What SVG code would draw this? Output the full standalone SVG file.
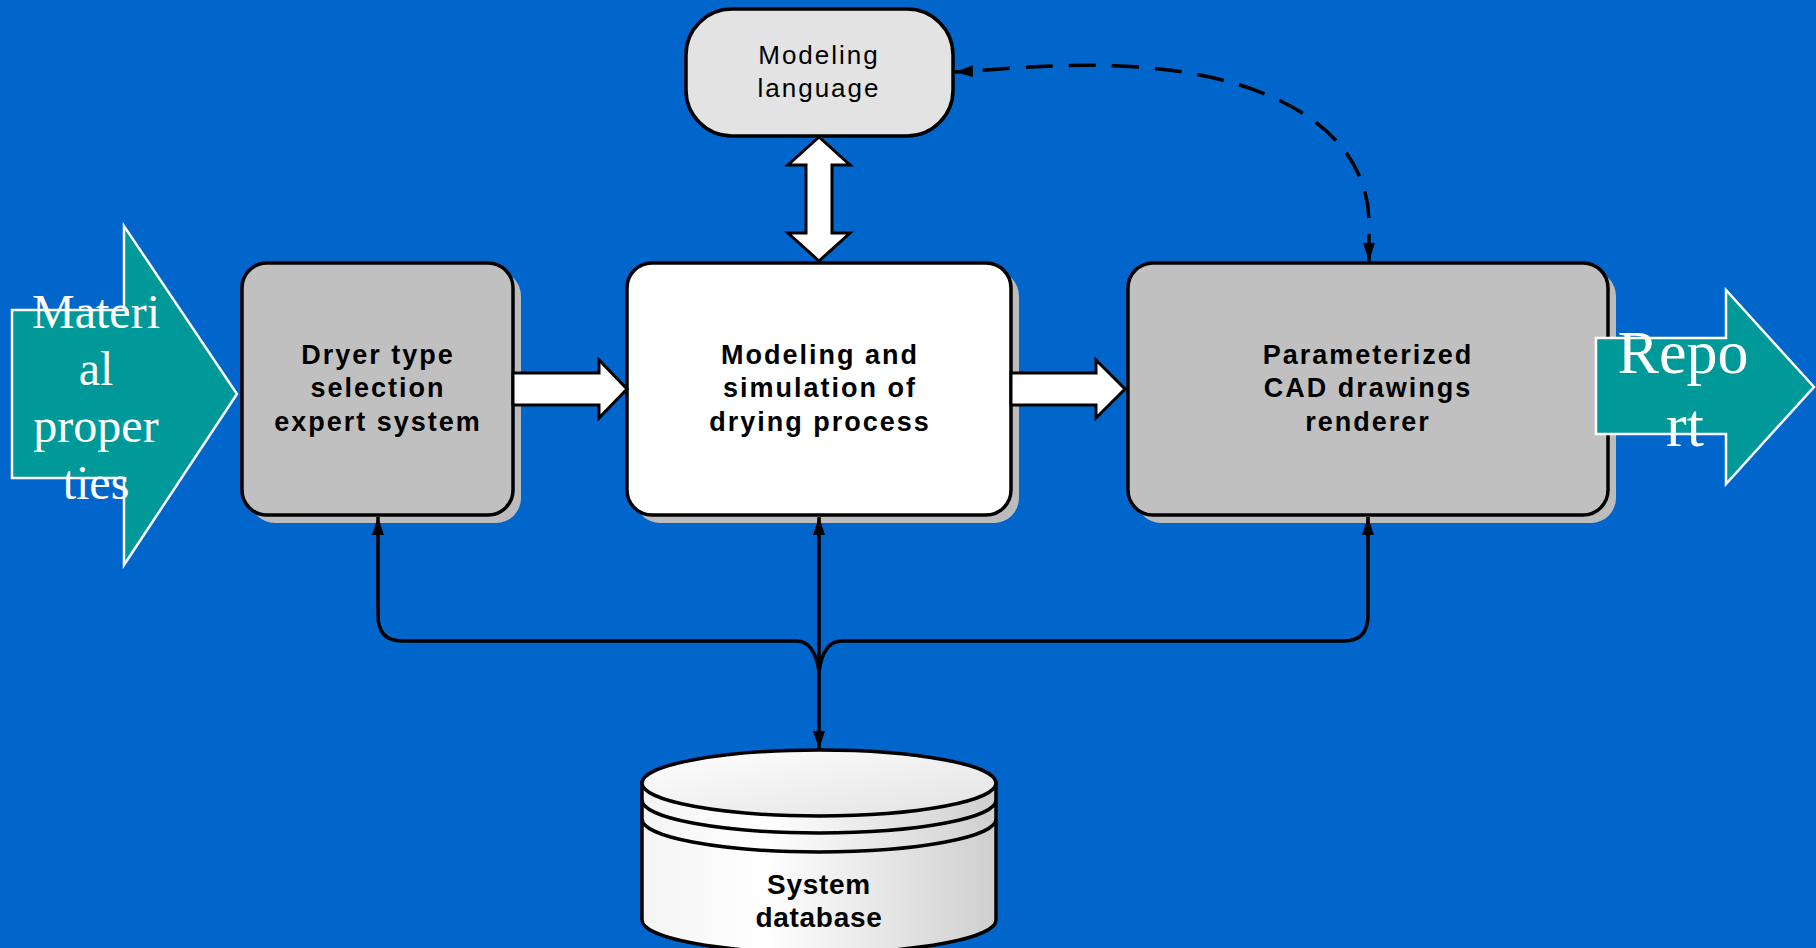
<svg xmlns="http://www.w3.org/2000/svg" width="1816" height="948" viewBox="0 0 1816 948">
<defs>
<style>
.box{stroke:#000;stroke-width:3.5}
.shadow{fill:#bcbcbc}
.bt{font-family:"Liberation Sans",Arial,sans-serif;font-weight:bold;font-size:27px;letter-spacing:2px;text-anchor:middle;fill:#000}
.lt{font-family:"Liberation Sans",Arial,sans-serif;font-size:26px;letter-spacing:2px;text-anchor:middle;fill:#000}
.dt{font-family:"Liberation Sans",Arial,sans-serif;font-weight:bold;font-size:28px;letter-spacing:0.7px;text-anchor:middle;fill:#000}
.tt{font-family:"Liberation Serif","Times New Roman",serif;fill:#fff;text-anchor:middle}
.teal{fill:#009999;stroke:#fff;stroke-width:2.5}
.block{fill:#fff;stroke:#000;stroke-width:3;stroke-linejoin:miter}
.conn{fill:none;stroke:#000;stroke-width:3.5}
.dash{fill:none;stroke:#000;stroke-width:3.5;stroke-dasharray:27 16}
</style>
<marker id="ah" viewBox="0 0 18 12" refX="18" refY="6" markerWidth="18" markerHeight="12" markerUnits="userSpaceOnUse" orient="auto-start-reverse">
<path d="M0,0 L18,6 L0,12 z" fill="#000"/>
</marker>
<linearGradient id="dbg" x1="0" y1="0" x2="1" y2="0">
<stop offset="0" stop-color="#f4f4f4"/>
<stop offset="0.35" stop-color="#ffffff"/>
<stop offset="1" stop-color="#cfcfcf"/>
</linearGradient>
<linearGradient id="dbt" x1="0" y1="0" x2="1" y2="1">
<stop offset="0" stop-color="#ffffff"/>
<stop offset="1" stop-color="#e2e2e2"/>
</linearGradient>
</defs>
<rect x="0" y="0" width="1816" height="948" fill="#0066cc"/>

<g id="modeling-language">
<rect class="box" x="686" y="9" width="267" height="127" rx="46" ry="46" fill="#e3e3e3"/>
<text class="lt" x="819" y="64">Modeling</text>
<text class="lt" x="819" y="97">language</text>
</g>

<g id="dryer-selection">
<rect class="shadow" x="250" y="271" width="271" height="252" rx="25"/>
<rect class="box" x="242" y="263" width="271" height="252" rx="25" fill="#c0c0c0"/>
<text class="bt" x="378" y="364">Dryer type</text>
<text class="bt" x="378" y="397">selection</text>
<text class="bt" x="378" y="431">expert system</text>
</g>

<g id="modeling-simulation">
<rect class="shadow" x="635" y="271" width="384" height="252" rx="25"/>
<rect class="box" x="627" y="263" width="384" height="252" rx="25" fill="#ffffff"/>
<text class="bt" x="820" y="364">Modeling and</text>
<text class="bt" x="820" y="397">simulation of</text>
<text class="bt" x="820" y="431">drying process</text>
</g>

<g id="cad-renderer">
<rect class="shadow" x="1136" y="271" width="480" height="252" rx="25"/>
<rect class="box" x="1128" y="263" width="480" height="252" rx="25" fill="#c0c0c0"/>
<text class="bt" x="1368" y="364">Parameterized</text>
<text class="bt" x="1368" y="397">CAD drawings</text>
<text class="bt" x="1368" y="431">renderer</text>
</g>

<g id="material-properties">
<polygon class="teal" points="12,310 124,310 124,226 237,394 124,565 124,478 12,478"/>
<text class="tt" font-size="48" x="96" y="328">Materi</text>
<text class="tt" font-size="48" x="96" y="385">al</text>
<text class="tt" font-size="48" x="96" y="442">proper</text>
<text class="tt" font-size="48" x="96" y="499">ties</text>
</g>

<g id="report">
<polygon class="teal" points="1596,338 1726,338 1726,290 1814,387 1726,484 1726,434 1596,434"/>
<text class="tt" font-size="62" x="1683" y="373">Repo</text>
<text class="tt" font-size="62" x="1685" y="446">rt</text>
</g>

<g id="system-database">
<path d="M642,783 L642,920 A177,33 0 0 0 996,920 L996,783 Z" fill="url(#dbg)" stroke="#000" stroke-width="3.5"/>
<ellipse cx="819" cy="783" rx="177" ry="33" fill="url(#dbt)" stroke="#000" stroke-width="3.5"/>
<path d="M642,800 A177,33 0 0 0 996,800" fill="none" stroke="#000" stroke-width="3.5"/>
<path d="M642,819 A177,33 0 0 0 996,819" fill="none" stroke="#000" stroke-width="3.5"/>
<text class="dt" x="819" y="894">System</text>
<text class="dt" x="819" y="927">database</text>
</g>

<g id="connectors">
<polygon class="block" points="513,373 599,373 599,360 627,389 599,418 599,405 513,405"/>
<polygon class="block" points="1011,373 1096,373 1096,360 1125,389 1096,418 1096,405 1011,405"/>
<polygon class="block" points="819,137 850,165 832,165 832,233 850,233 819,261 788,233 806,233 806,165 788,165"/>
<path class="conn" d="M819,517 L819,749" marker-start="url(#ah)" marker-end="url(#ah)"/>
<path class="conn" d="M819,672 Q815,641 796,641 L402,641 Q378,641 378,615 L378,517" marker-end="url(#ah)"/>
<path class="conn" d="M819,672 Q823,641 842,641 L1344,641 Q1368,641 1368,615 L1368,517" marker-end="url(#ah)"/>
<path class="dash" d="M1369,261 L1369,222 C1368,130 1270,72 1120,66 C1050,63 1000,70 955,72" marker-start="url(#ah)" marker-end="url(#ah)"/>
</g>
</svg>
